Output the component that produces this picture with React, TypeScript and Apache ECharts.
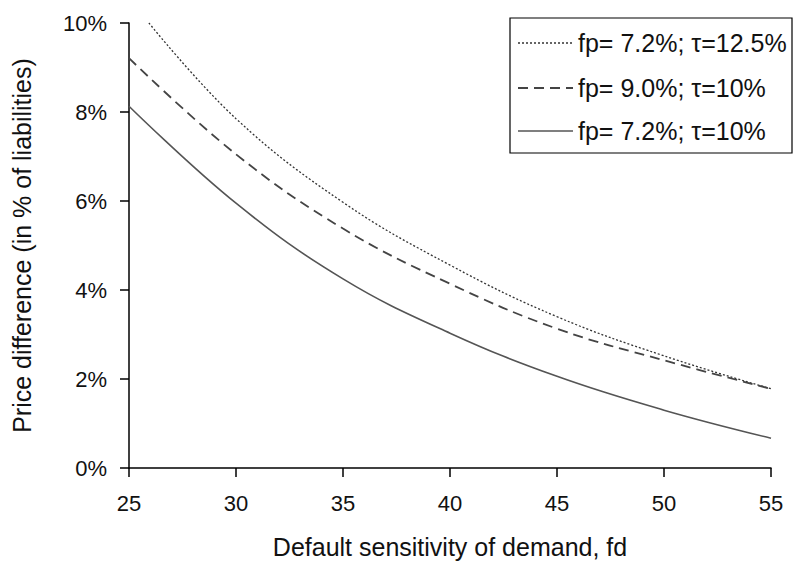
import React, { useEffect, useRef } from "react";
import * as echarts from "echarts";

const xTicks = [25, 30, 35, 40, 45, 50, 55];
const yTicks = [0, 2, 4, 6, 8, 10];

const seriesNames = ["fp= 7.2%; τ=12.5%", "fp= 9.0%; τ=10%", "fp= 7.2%; τ=10%"];

const xDotted = [25.93, 30, 35, 40, 45, 50, 55];
const yDotted = [10.0, 7.85, 5.97, 4.56, 3.4, 2.52, 1.78];

const xDashed = [25, 30, 35, 40, 45, 50, 55];
const yDashed = [9.21, 7.05, 5.38, 4.14, 3.13, 2.42, 1.78];

const xSolid = [25, 30, 35, 40, 45, 50, 55];
const ySolid = [8.13, 5.95, 4.25, 3.03, 2.06, 1.3, 0.67];

const FONT = "'Liberation Sans', Arial, sans-serif";

const lineStyles = [
  { color: "#333", width: 1.3, type: [2, 2] as number[] | string },
  { color: "#444", width: 1.8, type: [10, 6] as number[] | string },
  { color: "#555", width: 1.6, type: "solid" as number[] | string },
];

function pairs(xs: number[], ys: number[]) {
  return xs.map((x, i) => [x, ys[i]]);
}

export default function App() {
  const ref = useRef<HTMLDivElement>(null);
  useEffect(() => {
    if (!ref.current) return;
    const chart = echarts.init(ref.current, null, { renderer: "svg" });
    const datasets = [
      pairs(xDotted, yDotted),
      pairs(xDashed, yDashed),
      pairs(xSolid, ySolid),
    ];
    const rowY = [43, 88, 131];
    const legendGraphics: any[] = [
      {
        type: "rect",
        shape: { x: 510, y: 18, width: 282, height: 135 },
        style: { fill: "#fff", stroke: "#000", lineWidth: 1.2 },
        z: 10,
      },
    ];
    seriesNames.forEach((name, i) => {
      const ls = lineStyles[i];
      legendGraphics.push({
        type: "line",
        shape: { x1: 518, y1: rowY[i], x2: 573, y2: rowY[i] },
        style: {
          stroke: ls.color,
          lineWidth: ls.width,
          lineDash: Array.isArray(ls.type) ? ls.type : null,
        },
        z: 11,
      });
      legendGraphics.push({
        type: "text",
        x: 578,
        y: rowY[i],
        style: {
          text: name,
          fill: "#111",
          font: `25px ${FONT}`,
          verticalAlign: "middle",
          align: "left",
        },
        z: 11,
      });
    });
    chart.setOption({
      animation: false,
      backgroundColor: "#ffffff",
      textStyle: { fontFamily: FONT },
      grid: { left: 129, right: 23, top: 23, bottom: 99 },
      graphic: legendGraphics,
      xAxis: {
        type: "value",
        min: 25,
        max: 55,
        interval: 5,
        name: "Default sensitivity of demand, fd",
        nameLocation: "middle",
        nameGap: 66,
        nameTextStyle: { fontSize: 25, color: "#111", fontFamily: FONT },
        axisLine: { show: true, lineStyle: { color: "#000", width: 1.5 } },
        axisTick: { show: true, length: 9, lineStyle: { color: "#000", width: 1.5 } },
        axisLabel: { fontSize: 22, color: "#111", margin: 24, fontFamily: FONT },
        splitLine: { show: false },
      },
      yAxis: {
        type: "value",
        min: 0,
        max: 10,
        interval: 2,
        name: "Price difference (in % of liabilities)",
        nameLocation: "middle",
        nameGap: 95,
        nameTextStyle: { fontSize: 25, color: "#111", fontFamily: FONT },
        axisLine: { show: true, lineStyle: { color: "#000", width: 1.5 } },
        axisTick: { show: true, length: 9, lineStyle: { color: "#000", width: 1.5 } },
        axisLabel: { fontSize: 22, color: "#111", margin: 22, formatter: "{value}%", fontFamily: FONT },
        splitLine: { show: false },
      },
      series: seriesNames.map((name, i) => ({
        name,
        type: "line",
        data: datasets[i],
        smooth: 0.4,
        showSymbol: false,
        symbol: "none",
        lineStyle: { ...lineStyles[i] },
        itemStyle: { color: lineStyles[i].color },
      })),
    });
    return () => chart.dispose();
  }, []);
  return (
    <div
      ref={ref}
      style={{ position: "fixed", left: 0, top: 0, width: 794, height: 567 }}
    />
  );
}
